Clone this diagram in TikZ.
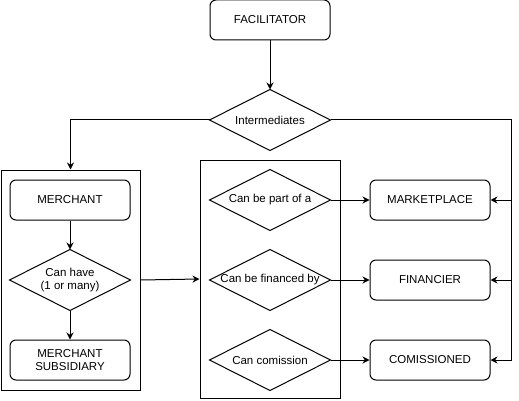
\documentclass[tikz,border=0pt]{standalone}
\usepackage{fontspec}
\setmainfont{Liberation Sans}
\usetikzlibrary{arrows.meta}
\begin{document}
\begin{tikzpicture}[x=1pt,y=-1pt, line width=1pt,
  txt/.style={font=\fontsize{11.5}{13.5}\selectfont},
  rbox/.style={txt, draw, rounded corners=6pt, minimum width=120pt, minimum height=40pt, inner sep=0pt, align=center},
  dia/.style={txt, minimum width=120pt, minimum height=60pt, inner sep=0pt, align=center},
  cont/.style={draw, inner sep=0pt},
  arr/.style={-{Stealth[length=7pt,width=7pt]}}]
\useasboundingbox (0,0) rectangle (519,401);

% containers
\node[cont, minimum width=139pt, minimum height=220pt] (lbox) at (70.5,280) {};
\node[cont, minimum width=140pt, minimum height=238pt] (mbox) at (270,279) {};

% top
\node[rbox] (fac) at (270,20) {FACILITATOR};
\node[dia] (inter) at (270,120) {Intermediates};
\draw (inter.west) -- (inter.north) -- (inter.east) -- (inter.south) -- cycle;

% left column
\node[rbox] (mer) at (70,200) {MERCHANT};
\node[dia] (have) at (70,280) {Can have\\(1 or many)};
\draw (have.west) -- (have.north) -- (have.east) -- (have.south) -- cycle;
\node[rbox] (sub) at (70,360) {MERCHANT\\SUBSIDIARY};

% middle column
\node[dia] (part) at (270,200) {Can be part of a};
\draw (part.west) -- (part.north) -- (part.east) -- (part.south) -- cycle;
\node[dia] (fin) at (270,280) {Can be financed by};
\draw (fin.west) -- (fin.north) -- (fin.east) -- (fin.south) -- cycle;
\node[dia] (com) at (270,360) {Can comission};
\draw (com.west) -- (com.north) -- (com.east) -- (com.south) -- cycle;

% right column
\node[rbox] (mkt) at (430,200) {MARKETPLACE};
\node[rbox] (fcr) at (430,280) {FINANCIER};
\node[rbox] (cmd) at (430,360) {COMISSIONED};

\coordinate (r1) at (511,200);
\coordinate (r2) at (511,280);
\coordinate (r3) at (511,360);

% connectors
\draw[arr] (fac) -- (inter.north);
\draw[arr] (inter.west) -| (lbox.north);
\draw[arr] (inter.east) -| (r3) -- (cmd.east);
\draw[arr] (r1) -- (mkt.east);
\draw[arr] (r2) -- (fcr.east);
\draw[arr] (mer) -- (have.north);
\draw[arr] (have.south) -- (sub);
\draw[arr] (lbox.east) -- (mbox.west);
\draw[arr] (part.east) -- (mkt.west);
\draw[arr] (fin.east) -- (fcr.west);
\draw[arr] (com.east) -- (cmd.west);
\end{tikzpicture}
\end{document}
